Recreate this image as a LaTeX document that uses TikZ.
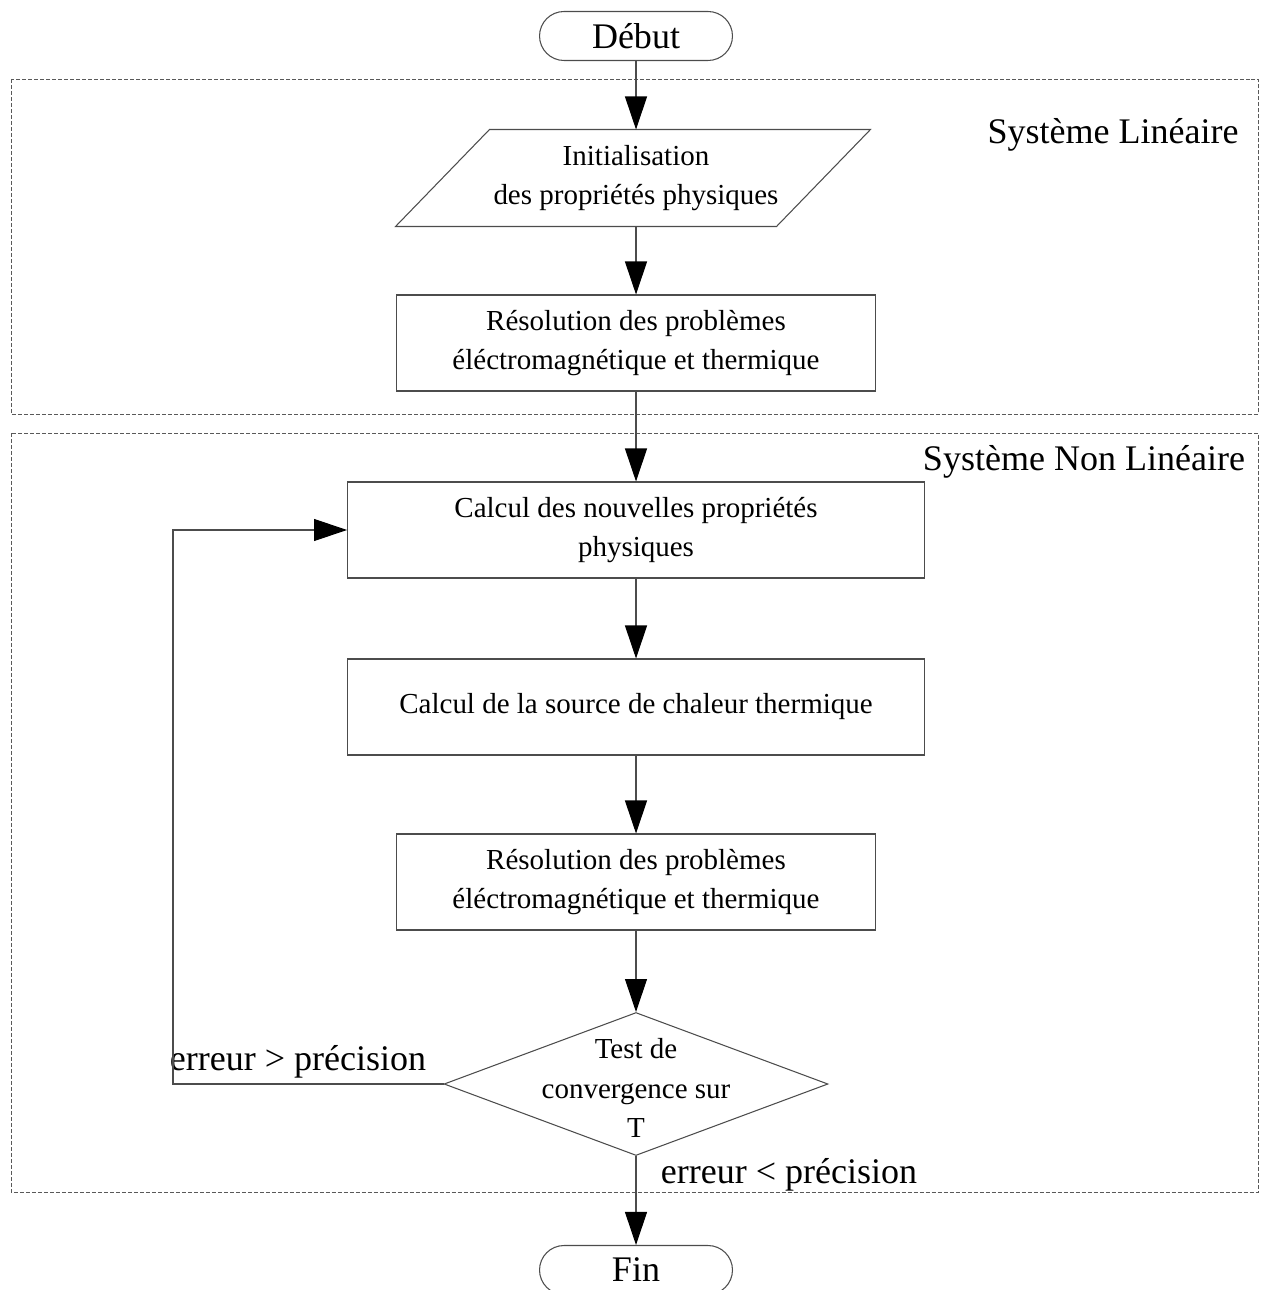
\documentclass[tikz,border=0pt]{standalone}
\usepackage{fontspec}
\setmainfont{Liberation Serif}
\usetikzlibrary{shapes.geometric,arrows.meta}

\begin{document}
\begin{tikzpicture}[x=0.02cm,y=-0.02cm,->,
    >={Triangle[length=0.66cm,width=0.44cm,color=black]},
    every path/.style={draw=black!70,line width=0.6pt},
    txt/.style={font=\fontsize{16.5}{22.5}\selectfont,align=center},
    big/.style={font=\fontsize{20.5}{24}\selectfont},
    term/.style={big,draw,rectangle,rounded corners=0.49cm,minimum width=3.86cm,minimum height=0.98cm},
    proc/.style={txt,draw,rectangle,minimum height=1.92cm},
    io/.style={txt,rectangle,minimum width=7.6cm,minimum height=1.92cm},
    decision/.style={draw,diamond,inner sep=0pt,minimum width=7.68cm,minimum height=2.86cm},
    group/.style={draw=black!65,line width=0.5pt,dash pattern=on 0.08cm off 0.04cm}]
        \path[use as bounding box,draw=none] (0,0) rectangle (1261,1290);
        % the two systems
        \draw[-,group] (11,79) rectangle (1258,414);
        \draw[-,group] (11,433) rectangle (1258,1192);
        \node[big] (lin) at (1113,135) {Système Linéaire};
        \node[big] (nonlin) at (1084,462) {Système Non Linéaire};
        % steps
        \node[term] (debut) at (636,36) {Début};
        \node[io] (init) at (636,178) {Initialisation\\des propriétés physiques};
        \draw[-] ([xshift=0.88cm]init.north west) -- ([xshift=0.88cm]init.north east)
          -- ([xshift=-1cm]init.south east) -- ([xshift=-1cm]init.south west) -- cycle;
        \node[proc,minimum width=9.58cm] (res1) at (636,343) {Résolution des problèmes\\éléctromagnétique et thermique};
        \node[proc,minimum width=11.54cm] (calc1) at (636,530) {Calcul des nouvelles propriétés\\physiques};
        \node[proc,minimum width=11.54cm] (calc2) at (636,707) {Calcul de la source de chaleur thermique};
        \node[proc,minimum width=9.58cm] (res2) at (636,882) {Résolution des problèmes\\éléctromagnétique et thermique};
        \node[decision] (test) at (636,1084) {};
        \node[txt] (testtxt) at (636,1088) {Test de\\convergence sur\\T};
        \node[term] (fin) at (636,1270) {Fin};
        \coordinate (loop) at (173,1084);
        \node[big] (errgt) at (298,1062) {erreur > précision};
        \node[big] (errlt) at (789,1175) {erreur < précision};
        % arrows
        \draw (debut) -- (init);
        \draw (init) -- (res1);
        \draw (res1) -- (calc1);
        \draw (calc1) -- (calc2);
        \draw (calc2) -- (res2);
        \draw (res2) -- (test);
        \draw (test) -- (fin);
        \draw (test.west) -- (loop) -- (loop |- calc1.west) -- (calc1.west);
\end{tikzpicture}
\end{document}
